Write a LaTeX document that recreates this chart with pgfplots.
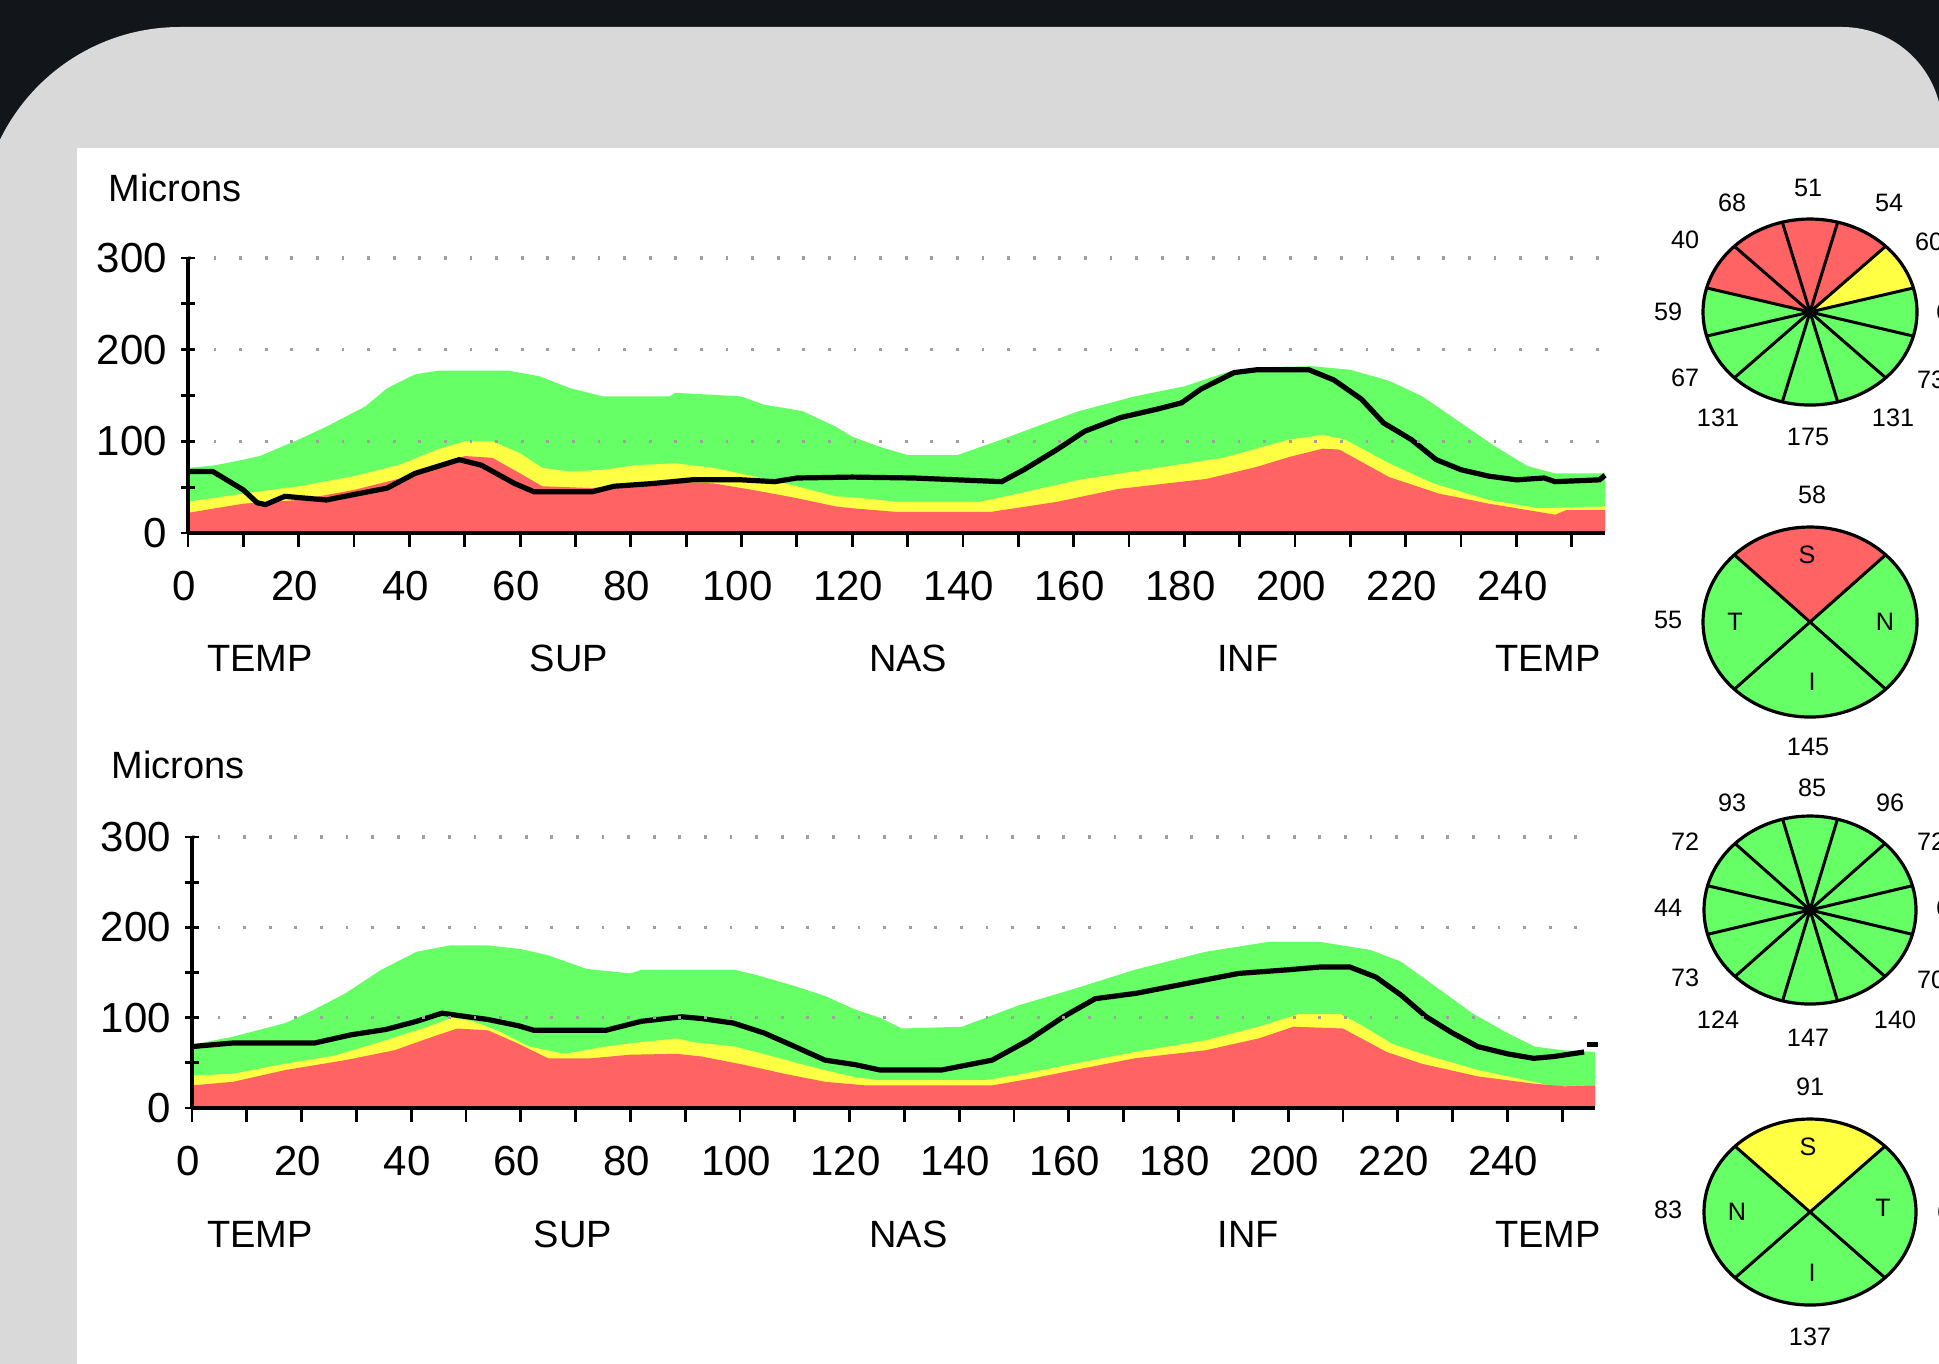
\documentclass[border=0pt]{standalone}
\usepackage{fontspec}
\setmainfont{Liberation Sans}
\usepackage{pgfplots}
\usepackage{pgfplotstable}
\pgfplotsset{compat=1.18}
\definecolor{pred}{RGB}{255,99,99}
\definecolor{pyel}{RGB}{255,255,68}
\definecolor{pgrn}{RGB}{102,255,102}
\definecolor{darkbg}{RGB}{18,21,25}
\definecolor{panel}{RGB}{217,217,217}

% ---------- top plot (first eye) ----------
\pgfplotstableread{
x y
0 71
5 74
10 80
13 84
20 102
25 116
32 138
36 158
41 173
45 177
58 177
63.5 171
69 158
75 149
87 149
88 153
100 149
104 140
111 133
117 116
120 105
125 94
130 85
139 85
147 102
155 120
161 133
171 149
180 160
188 176
195 181
203 182
210 178
217 166
223 149
230 120
236 95
242 73
247 65
256 65
}\GA
\pgfplotstableread{
x y
0 34
10 43
20 51
30 62
38 74
45 91
50 100
55 100
60 87
64 71
69 67
75 69
81 74
88 76
95 71
102 62
110 51
117 40
120 39
128 34
143 34
150 43
161 58
175 71
187 82
199 102
205 107
209 102
217 76
225 54
235 36
244 27
256 29
}\YA
\pgfplotstableread{
x y
0 22
10 32
20 36
30 47
40 62
45 74
50 84
55 82
60 65
64 51
73 49
81 54
88 56
95 54
102 47
110 38
117 29
120 27
128 23
145 23
157 34
168 48
184 59
193 72
199 83
205 92
208 91
217 61
226 43
235 32
247 20
249 25
256 25
}\RA
\pgfplotstableread{
x y
0 67
4.5 67
10 47
12.5 33
14 31
17.5 40
25 36
30 42
36 49
41 65
49 80
53 74
59 54
62.5 45
73 45
77 51
84 54
91 58
100 58
106 56
110 60
120 61
131 60
147 56
151 69
157 91
162 111
168.5 126
175 135
179.5 142
183 157
189 175
193 178
202.5 178
207 167
212 146
216 120
221 102
225.5 80
230 69
235 62
240 58
245 60
247 56
255 58
256 63
}\BA

% ---------- bottom plot (second eye) ----------
\pgfplotstableread{
x y
0 70
7.5 79
17 94
22 108
28 127
34.5 153
41 173
47 180
54 180
60 176
65 169
72 154
80 149
82 153
99 153
102.5 148
110 135
115.5 124
121 109
125.5 100
129.5 88
140.5 90
151 114
161 132
172 153
185 173
196.5 184
205.7 184
215 175
220.6 162
227 134
233.6 105
240 83
245 68
250 64
256 62
}\GB
\pgfplotstableread{
x y
0 36
7.5 38
17 49
26 58
35.4 75
43 90
47.5 100
51.3 96
56 85
61.5 68
68 60
75.5 68
82 73
88.5 77
91.3 73
99 68
106 57
114 44
121 34
125 31
145 31
151.7 38
161 49
172 62
185 75
194.6 90
202 104
209.5 104
213 93
219 71
224.4 60
234.6 42
244.8 29
248.5 24
256 25
}\YB
\pgfplotstableread{
x y
0 25
7.5 29
17 42
28 53
37 64
43 77
48.4 88
54 86
59.6 71
65 55
72.7 55
80 59
88.5 60
93 57
100.6 48
108 38
115.5 29
123 25
146 25
153.5 33
161 42
172 55
185 64
194.6 77
201 90
210 88
218 62
224.4 49
234.6 35
244.8 27
250.4 24
256 25
}\RB
\pgfplotstableread{
x y
0 68
7.5 72
22.4 72
29 81
35.4 87
41 96
45.6 105
50.3 101
54 98
59.6 91
62.4 86
75.5 86
82 96
89.4 101
93 99
98.8 94
104.4 83
110 68
115.5 53
121 48
125.6 42
136.7 42
146 53
152.6 75
159 101
164.8 121
172.3 127
181.6 138
191 149
200 153
205.7 156
211.3 156
216 145
220.6 125
225.2 101
230 83
234.6 68
240 60
244.8 55
248.5 57
254 62
}\BB

\pgfplotsset{
  rnfl/.style={
    scale only axis, anchor=south west,
    xmin=0, xmax=256, ymin=0, ymax=300,
    axis lines*=left, axis on top, clip=false,
    axis line style={line width=0.9pt, black, -},
    xtick={0,20,...,240}, minor xtick={10,30,...,250},
    ytick={0,100,200,300}, minor ytick={50,150,250},
    xtick align=outside, ytick align=center,
    major tick length=3.5pt, minor tick length=3.5pt,
    tick style={black, line width=0.7pt},
    ymajorgrids,
    major grid style={gray!75, line width=0.8pt, dash pattern=on 0.7pt off 5.7pt},
    tick label style={font=\fontsize{10.5}{12}\selectfont},
    xticklabel style={yshift=-2.5pt, xshift=-1pt},
    /pgf/number format/assume math mode=true,
  },
  band/.style={draw=none, fill=#1},
}

\newcommand\catfont{\fontsize{9.5}{11}\selectfont}
\newcommand\piefont{\fontsize{6.3}{7}\selectfont}
\newcommand\sector[7]{\fill[#7] (axis cs:#1,#2) -- +(#5:#3 and #4) arc[start angle=#5, end angle=#6, x radius=#3, y radius=#4] -- cycle;}
\newcommand\spoke[4]{\draw[line width=0.75pt] (axis cs:#1,#2) -- +(#4:#3);}

\begin{document}
\begin{tikzpicture}
\useasboundingbox (0,0) rectangle (484.75pt,340.75pt);
\clip (0,0) rectangle (484.75pt,340.75pt);
% background frame
\fill[darkbg] (0,0) rectangle (484.75pt,340.75pt);
\fill[panel] (-5pt,-5pt) -- (-5pt,284pt) arc[start angle=180,end angle=90,radius=50pt]
   -- (460.5pt,334pt) arc[start angle=90,end angle=0,radius=25pt] -- (485.5pt,-5pt) -- cycle;
\fill[white] (19.25pt,-5pt) rectangle (490pt,303.75pt);

\node[anchor=west, font=\catfont, inner sep=0pt] at (27pt,293.75pt) {Microns};
\node[anchor=west, font=\catfont, inner sep=0pt] at (27.75pt,149.5pt) {Microns};

% ---------- top axis ----------
\begin{axis}[rnfl, at={(47pt,207.5pt)}, width=354.25pt, height=68.75pt]
\addplot[band=pgrn] table {\GA} \closedcycle;
\addplot[band=pyel] table {\YA} \closedcycle;
\addplot[band=pred] table {\RA} \closedcycle;
\addplot[black, line width=1.3pt] table {\BA};
\node[font=\catfont] at (axis cs:13,0) [yshift=-31.25pt] {TEMP};
\node[font=\catfont] at (axis cs:68.8,0) [yshift=-31.25pt] {SUP};
\node[font=\catfont] at (axis cs:130.1,0) [yshift=-31.25pt] {NAS};
\node[font=\catfont] at (axis cs:191.5,0) [yshift=-31.25pt] {INF};
\node[font=\catfont] at (axis cs:245.7,0) [yshift=-31.25pt] {TEMP};
\end{axis}

% ---------- bottom axis ----------
\begin{axis}[rnfl, at={(48pt,63.75pt)}, width=350.75pt, height=67.75pt]
\addplot[band=pgrn] table {\GB} \closedcycle;
\addplot[band=pyel] table {\YB} \closedcycle;
\addplot[band=pred] table {\RB} \closedcycle;
\addplot[black, line width=1.3pt] table {\BB};
\addplot[black, line width=1.3pt] coordinates {(254.5,70) (256.5,70)};
\node[font=\catfont] at (axis cs:12.4,0) [yshift=-31.5pt] {TEMP};
\node[font=\catfont] at (axis cs:69.5,0) [yshift=-31.5pt] {SUP};
\node[font=\catfont] at (axis cs:130.7,0) [yshift=-31.5pt] {NAS};
\node[font=\catfont] at (axis cs:192.7,0) [yshift=-31.5pt] {INF};
\node[font=\catfont] at (axis cs:247.4,0) [yshift=-31.5pt] {TEMP};
\end{axis}

% ---------- sector charts (pixel coordinates) ----------
\begin{axis}[scale only axis, hide axis, anchor=south west, at={(0pt,0pt)},
  width=484.75pt, height=340.75pt, xmin=0, xmax=1939, ymin=0, ymax=1363,
  y dir=reverse, clip=false]
\addplot[draw=none] coordinates {(0,0)};
% pie 1: clock hours
\fill[pgrn] (axis cs:1810,312) ellipse [x radius=26.75pt, y radius=23.25pt];
\sector{1810}{312}{26.75pt}{23.25pt}{45}{165}{pred}
\sector{1810}{312}{26.75pt}{23.25pt}{15}{45}{pyel}
\draw[line width=0.8pt] (axis cs:1810,312) ellipse [x radius=26.75pt, y radius=23.25pt];
\pgfplotsinvokeforeach{15,45,75,105,135,165,195,225,255,285,315,345}{\draw[line width=0.75pt] (axis cs:1810,312) -- +(#1:26.75pt and 23.25pt);}
\fill (axis cs:1810,312) circle [radius=1.3pt];
\node[font=\piefont] at (axis cs:1808,188) {51};
\node[font=\piefont] at (axis cs:1732,203) {68};
\node[font=\piefont] at (axis cs:1889,203) {54};
\node[font=\piefont] at (axis cs:1685,240) {40};
\node[font=\piefont] at (axis cs:1929,242) {60};
\node[font=\piefont] at (axis cs:1668,312) {59};
\node[font=\piefont] at (axis cs:1950,312) {61};
\node[font=\piefont] at (axis cs:1685,378) {67};
\node[font=\piefont] at (axis cs:1931,380) {73};
\node[font=\piefont] at (axis cs:1718,418) {131};
\node[font=\piefont] at (axis cs:1893,418) {131};
\node[font=\piefont] at (axis cs:1808,437) {175};
% pie 2: quadrants
\fill[pgrn] (axis cs:1810,622) ellipse [x radius=26.75pt, y radius=23.75pt];
\sector{1810}{622}{26.75pt}{23.75pt}{45}{135}{pred}
\draw[line width=0.8pt] (axis cs:1810,622) ellipse [x radius=26.75pt, y radius=23.75pt];
\pgfplotsinvokeforeach{45,135,225,315}{\draw[line width=0.75pt] (axis cs:1810,622) -- +(#1:26.75pt and 23.75pt);}
\node[font=\piefont] at (axis cs:1807,555) {S};
\node[font=\piefont] at (axis cs:1735,622) {T};
\node[font=\piefont] at (axis cs:1885,622) {N};
\node[font=\piefont] at (axis cs:1812,682) {I};
\node[font=\piefont] at (axis cs:1812,495) {58};
\node[font=\piefont] at (axis cs:1668,620) {55};
\node[font=\piefont] at (axis cs:1952,622) {62};
\node[font=\piefont] at (axis cs:1808,747) {145};
% pie 3: clock hours
\fill[pgrn] (axis cs:1810,910) ellipse [x radius=26.5pt, y radius=23.5pt];
\draw[line width=0.8pt] (axis cs:1810,910) ellipse [x radius=26.5pt, y radius=23.5pt];
\pgfplotsinvokeforeach{15,45,75,105,135,165,195,225,255,285,315,345}{\draw[line width=0.75pt] (axis cs:1810,910) -- +(#1:26.5pt and 23.5pt);}
\fill (axis cs:1810,910) circle [radius=1.3pt];
\node[font=\piefont] at (axis cs:1812,788) {85};
\node[font=\piefont] at (axis cs:1732,803) {93};
\node[font=\piefont] at (axis cs:1890,803) {96};
\node[font=\piefont] at (axis cs:1685,842) {72};
\node[font=\piefont] at (axis cs:1931,842) {72};
\node[font=\piefont] at (axis cs:1668,908) {44};
\node[font=\piefont] at (axis cs:1950,908) {63};
\node[font=\piefont] at (axis cs:1685,978) {73};
\node[font=\piefont] at (axis cs:1931,980) {70};
\node[font=\piefont] at (axis cs:1718,1020) {124};
\node[font=\piefont] at (axis cs:1895,1020) {140};
\node[font=\piefont] at (axis cs:1808,1038) {147};
% pie 4: quadrants
\fill[pgrn] (axis cs:1810,1212) ellipse [x radius=26.5pt, y radius=23.25pt];
\sector{1810}{1212}{26.5pt}{23.25pt}{45}{135}{pyel}
\draw[line width=0.8pt] (axis cs:1810,1212) ellipse [x radius=26.5pt, y radius=23.25pt];
\pgfplotsinvokeforeach{45,135,225,315}{\draw[line width=0.75pt] (axis cs:1810,1212) -- +(#1:26.5pt and 23.25pt);}
\node[font=\piefont] at (axis cs:1808,1147) {S};
\node[font=\piefont] at (axis cs:1737,1212) {N};
\node[font=\piefont] at (axis cs:1883,1208) {T};
\node[font=\piefont] at (axis cs:1812,1273) {I};
\node[font=\piefont] at (axis cs:1810,1087) {91};
\node[font=\piefont] at (axis cs:1668,1210) {83};
\node[font=\piefont] at (axis cs:1951,1212) {60};
\node[font=\piefont] at (axis cs:1810,1337) {137};
\end{axis}
\end{tikzpicture}
\end{document}
